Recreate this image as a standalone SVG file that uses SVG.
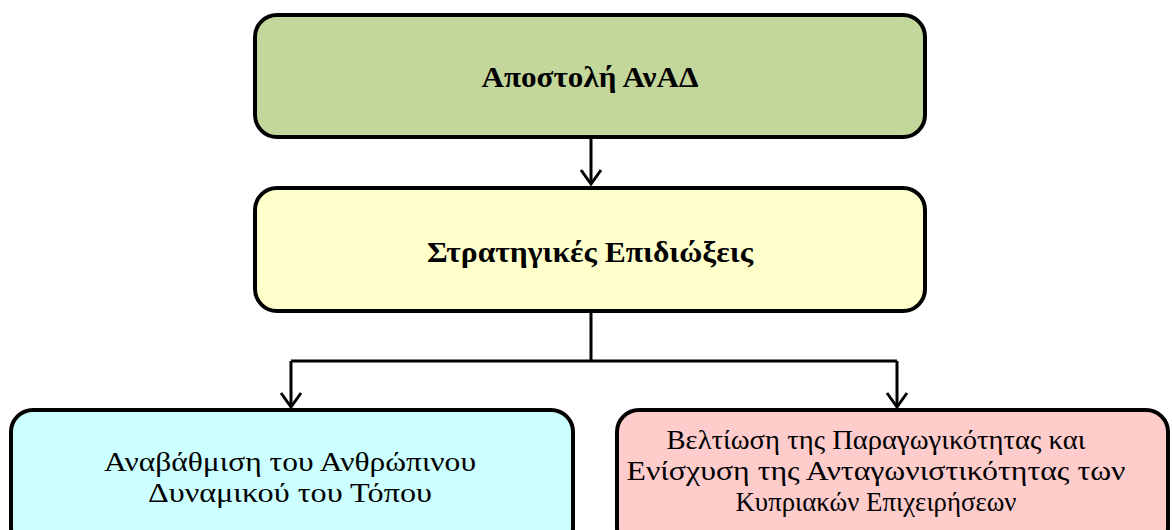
<svg xmlns="http://www.w3.org/2000/svg" width="1172" height="530" viewBox="0 0 1172 530">
<style>
.box{stroke:#000;stroke-width:4}
.t{font-family:'Liberation Serif','DejaVu Serif','Times New Roman',serif;fill:#000;text-anchor:middle}
.b{font-weight:bold;font-size:30px}
.r{font-size:27px}
.c{fill:none;stroke:#000;stroke-width:3}
</style>
<defs>
<marker id="ah" markerWidth="18" markerHeight="24" refX="15" refY="12" orient="auto" markerUnits="userSpaceOnUse" viewBox="0 0 18 24">
<path d="M1,2 L15,12 L1,22" fill="none" stroke="#000" stroke-width="3"/>
</marker>
</defs>
<rect width="1172" height="530" fill="#fff"/>
<g id="connectors">
<path class="c" d="M591,138 V184" marker-end="url(#ah)"/>
<path class="c" d="M591,312 V361 M291,361 H897"/>
<path class="c" d="M291,361 V407" marker-end="url(#ah)"/>
<path class="c" d="M897,361 V407" marker-end="url(#ah)"/>
</g>
<g id="mission">
<rect class="box" x="255" y="15" width="670" height="122" rx="22" fill="#c4d79b"/>
<text class="t b" x="590" y="87" textLength="217" lengthAdjust="spacingAndGlyphs">Αποστολή ΑνΑΔ</text>
</g>
<g id="goals">
<rect class="box" x="255" y="188" width="670" height="123" rx="22" fill="#ffffcc"/>
<text class="t b" x="590" y="262" textLength="326" lengthAdjust="spacingAndGlyphs">Στρατηγικές Επιδιώξεις</text>
</g>
<g id="human">
<rect class="box" x="11" y="410" width="562" height="140" rx="22" fill="#ccffff"/>
<text class="t r" x="290" y="471" textLength="372" lengthAdjust="spacingAndGlyphs">Αναβάθμιση του Ανθρώπινου</text>
<text class="t r" x="290" y="502" textLength="284" lengthAdjust="spacingAndGlyphs">Δυναμικού του Τόπου</text>
</g>
<g id="productivity">
<rect class="box" x="617" y="410" width="551" height="140" rx="22" fill="#ffcccc"/>
<text class="t r" x="876" y="449" textLength="419" lengthAdjust="spacingAndGlyphs">Βελτίωση της Παραγωγικότητας και</text>
<text class="t r" x="876" y="480" textLength="499" lengthAdjust="spacingAndGlyphs">Ενίσχυση της Ανταγωνιστικότητας των</text>
<text class="t r" x="876" y="511" textLength="281" lengthAdjust="spacingAndGlyphs">Κυπριακών Επιχειρήσεων</text>
</g>
</svg>
